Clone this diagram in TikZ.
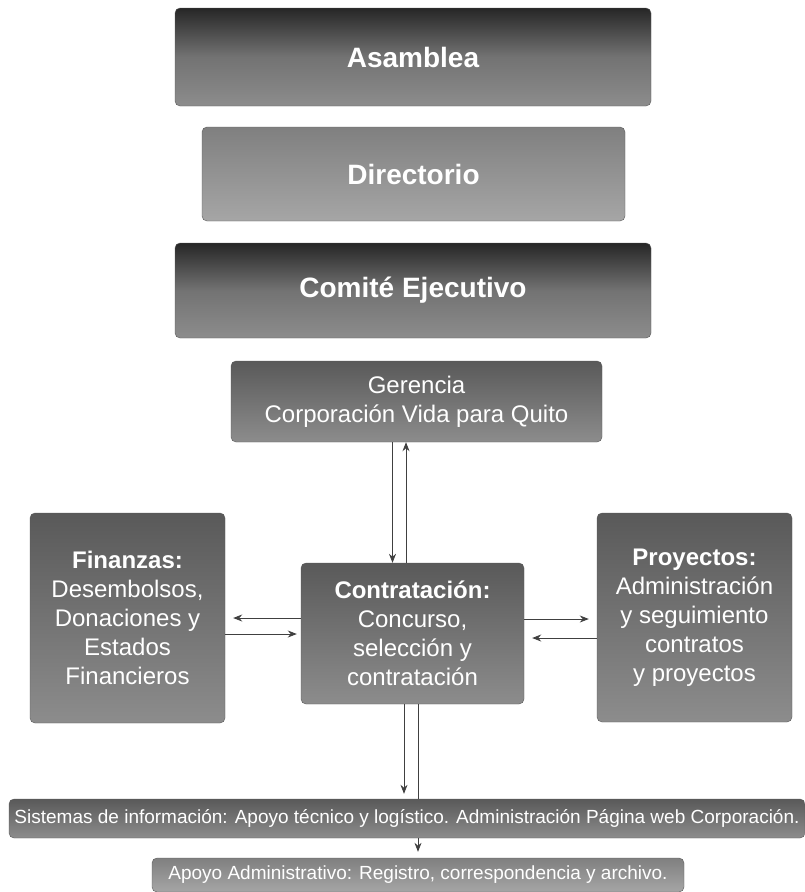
\documentclass[tikz,border=0pt]{standalone}
\usepackage{fontspec}
\setmainfont{Liberation Sans}
\usepackage{tikz}
\usetikzlibrary{arrows.meta}

\begin{document}
\begin{tikzpicture}[x=1pt, y=-1pt, >={Stealth[length=9pt, width=7pt]},
    orgbox/.style={draw=black!65, rounded corners=5pt, text=white, align=center, inner sep=0pt},
    darkfill/.style={top color=black!85, bottom color=black!45, middle color=black!55},
    midfill/.style={top color=black!65, bottom color=black!45},
    lightfill/.style={top color=black!50, bottom color=black!35},
    titletext/.style={font=\bfseries\fontsize{28}{34}\selectfont},
    bodytext/.style={font=\fontsize{24}{29}\selectfont},
    smalltext/.style={font=\fontsize{19}{22}\selectfont},
    link/.style={draw=black!75, line width=0.8pt}]
    \useasboundingbox (0,0) rectangle (805,892);

    % Governing bodies
    \node (asamblea) at (413,57) [orgbox, darkfill, titletext, minimum width=476pt, minimum height=98pt] {Asamblea};
    \node (directorio) at (413.5,174) [orgbox, lightfill, titletext, minimum width=423pt, minimum height=94pt] {Directorio};
    \node (comite) at (413,290.5) [orgbox, darkfill, titletext, minimum width=476pt, minimum height=95pt] {Comité Ejecutivo};

    % Management
    \node (gerencia) at (416.5,401.5) [orgbox, midfill, bodytext, minimum width=371pt, minimum height=81pt] {Gerencia\\Corporación Vida para Quito};

    % Areas
    \node (finanzas) at (127.5,618) [orgbox, midfill, bodytext, minimum width=195pt, minimum height=210pt] {\textbf{Finanzas:}\\Desembolsos,\\Donaciones y\\Estados\\Financieros};
    \node (contratacion) at (412.5,633.5) [orgbox, midfill, bodytext, minimum width=223pt, minimum height=141pt] {\textbf{Contratación:}\\Concurso,\\selección y\\contratación};
    \node (proyectos) at (694.5,617.5) [orgbox, midfill, bodytext, minimum width=195pt, minimum height=209pt] {\textbf{Proyectos:}\\Administración\\y seguimiento\\contratos\\y proyectos};

    % Support
    \node (sistemas) at (407,818.5) [orgbox, midfill, smalltext, minimum width=796pt, minimum height=39pt] {Sistemas de información: Apoyo técnico y logístico. Administración Página web Corporación.};
    \node (apoyo) at (418,875) [orgbox, lightfill, smalltext, minimum width=532pt, minimum height=34pt] {Apoyo Administrativo: Registro, correspondencia y archivo.};

    % Connectors
    \draw [->, link] ([xshift=-24pt]gerencia.south) -- ([xshift=-20pt]contratacion.north);
    \draw [->, link] ([xshift=-6.5pt]contratacion.north) -- ([xshift=-10.5pt]gerencia.south);
    \draw [->, link, shorten >=8pt] ([yshift=15.5pt]contratacion.west) -- (finanzas.east);
    \draw [->, link, shorten >=4pt] ([yshift=-16pt]finanzas.east) -- ([yshift=-0.5pt]contratacion.west);
    \draw [->, link, shorten >=8pt] ([yshift=14.5pt]contratacion.east) -- ([yshift=-1.5pt]proyectos.west);
    \draw [->, link, shorten >=8pt] ([yshift=-20.5pt]proyectos.west) -- ([yshift=-4.5pt]contratacion.east);
    \draw [->, link, shorten >=5pt] ([xshift=-8.5pt]contratacion.south) -- ([xshift=-3pt]sistemas.north);
    \draw [link] ([xshift=5.5pt]contratacion.south) -- ([xshift=11pt]sistemas.north);
    \draw [->, link, shorten >=6pt] ([xshift=11pt]sistemas.south) -- ([xshift=0pt]apoyo.north);
\end{tikzpicture}
\end{document}
